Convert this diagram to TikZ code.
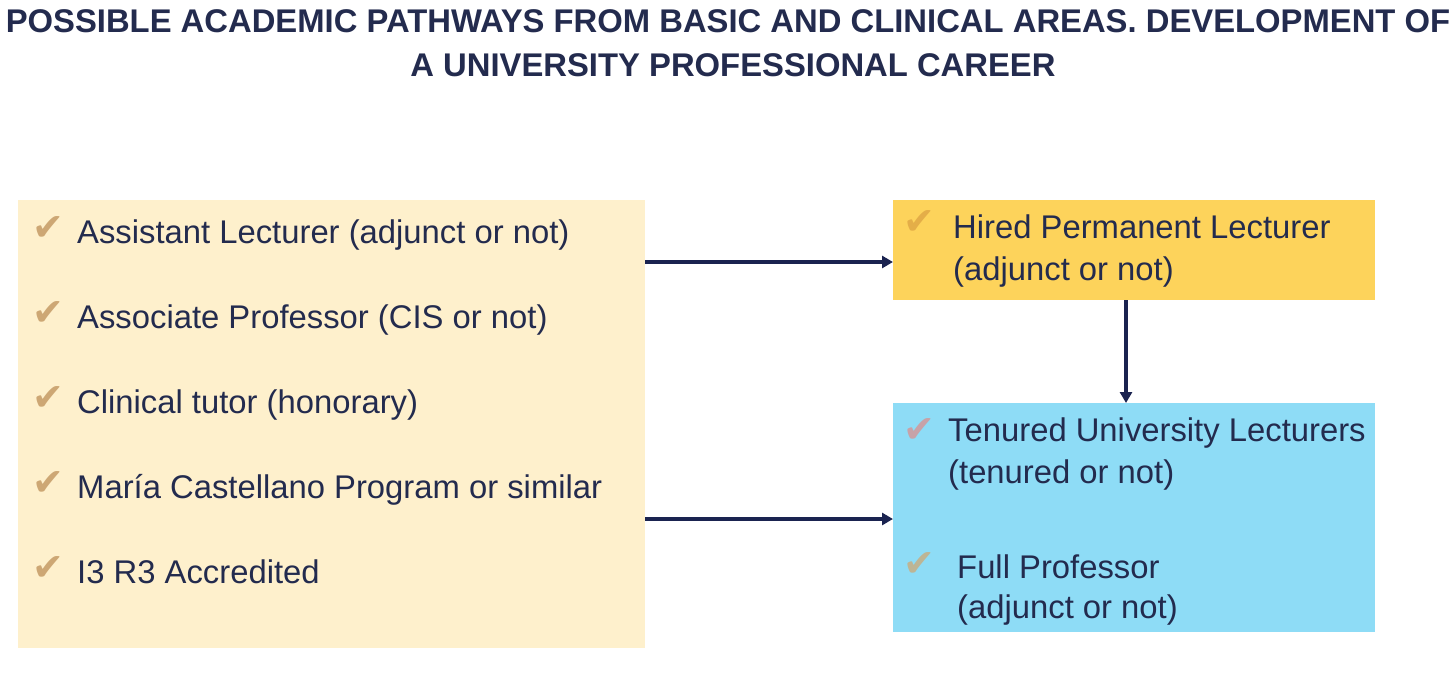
\documentclass[tikz,border=0pt]{standalone}
\usepackage{fontspec}
\setmainfont{Liberation Sans}
\newfontfamily\symfont{DejaVu Sans}
\usetikzlibrary{arrows.meta}
\definecolor{navy}{HTML}{232B4E}
\definecolor{arrowc}{HTML}{1A2350}
\definecolor{cream}{HTML}{FEF0CC}
\definecolor{gold}{HTML}{FDD35B}
\definecolor{sky}{HTML}{8EDCF6}
\definecolor{checkbrown}{HTML}{CDA774}
\definecolor{checkgold}{HTML}{E4AE48}
\definecolor{checkpink}{HTML}{C7A2A8}
\definecolor{checkgrey}{HTML}{BDB595}
\tikzset{
  panel/.style={draw=none, inner sep=0pt, anchor=north west},
  itemtext/.style={anchor=base west, inner sep=0pt, text=navy, font=\fontsize{32.8}{40}\selectfont},
  titletext/.style={anchor=base, inner sep=0pt, text=navy, font=\fontsize{32.8}{38}\selectfont\bfseries},
  tick/.style={anchor=base west, inner sep=0pt, font=\symfont\fontsize{38}{40}\selectfont},
  arr/.style={draw=arrowc, line width=3.8pt, -{Triangle[length=11pt,width=12pt]}}
}
\begin{document}
\begin{tikzpicture}[x=1pt,y=-1pt]
\useasboundingbox (0,0) rectangle (1455,677);
% title
\node[titletext] (t1) at (728,33) {POSSIBLE ACADEMIC PATHWAYS FROM BASIC AND CLINICAL AREAS. DEVELOPMENT OF};
\node[titletext] (t2) at (733,77) {A UNIVERSITY PROFESSIONAL CAREER};
% boxes
\node[panel, fill=cream, minimum width=627pt, minimum height=448pt] (left) at (18,200) {};
\node[panel, fill=gold, minimum width=482pt, minimum height=100pt] (hired) at (893,200) {};
\node[panel, fill=sky, minimum width=482pt, minimum height=229pt] (tenured) at (893,403) {};
% left items
\node[tick, text=checkbrown] (c1) at (32,240) {✔};
\node[itemtext] (i1) at (77,243) {Assistant Lecturer (adjunct or not)};
\node[tick, text=checkbrown] (c2) at (32,325) {✔};
\node[itemtext] (i2) at (77,328) {Associate Professor (CIS or not)};
\node[tick, text=checkbrown] (c3) at (32,410) {✔};
\node[itemtext] (i3) at (77,413) {Clinical tutor (honorary)};
\node[tick, text=checkbrown] (c4) at (32,495) {✔};
\node[itemtext] (i4) at (77,498) {María Castellano Program or similar};
\node[tick, text=checkbrown] (c5) at (32,580) {✔};
\node[itemtext] (i5) at (77,583) {I3 R3 Accredited};
% hired box
\node[tick, text=checkgold] (c6) at (903,234) {✔};
\node[itemtext] (h1) at (953,238) {Hired Permanent Lecturer};
\node[itemtext] (h2) at (953,280) {(adjunct or not)};
% tenured box
\node[tick, text=checkpink] (c7) at (903,442) {✔};
\node[itemtext] (u1) at (948,441) {Tenured University Lecturers};
\node[itemtext] (u2) at (948,483) {(tenured or not)};
\node[tick, text=checkgrey] (c8) at (903,576) {✔};
\node[itemtext] (f1) at (957,578) {Full Professor};
\node[itemtext] (f2) at (957,618) {(adjunct or not)};
% arrows
\coordinate (ya) at (0,262);
\coordinate (yb) at (0,519);
\coordinate (xv) at (1126,0);
\draw[arr] (left.east |- ya) -- (hired.west |- ya);
\draw[arr] (left.east |- yb) -- (tenured.west |- yb);
\draw[arr] (hired.south -| xv) -- (tenured.north -| xv);
\end{tikzpicture}
\end{document}
